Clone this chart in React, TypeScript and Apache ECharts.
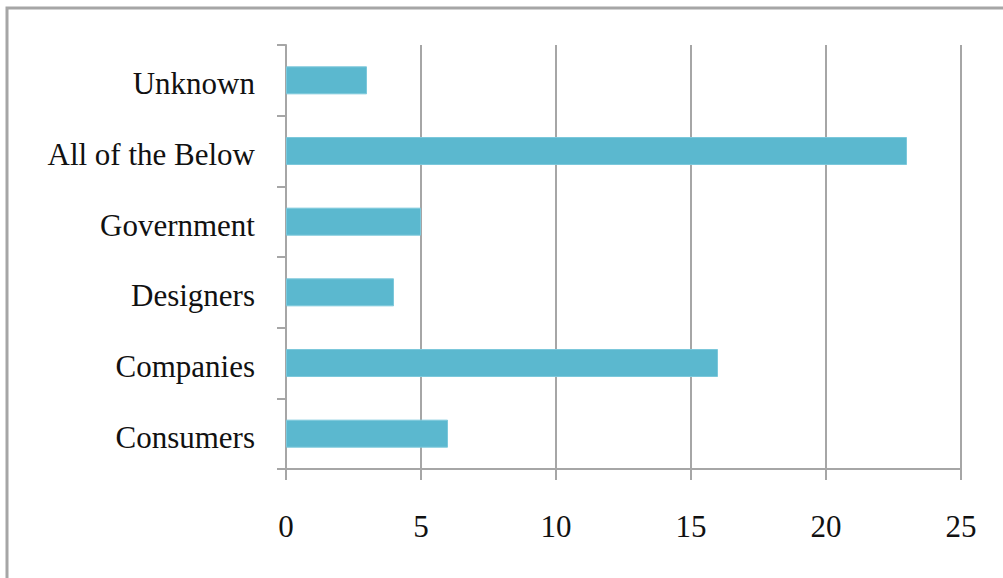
import React, { useEffect, useRef } from "react";
import * as echarts from "echarts";

const categories = ["Consumers", "Companies", "Designers", "Government", "All of the Below", "Unknown"];
const values = [6, 16, 4, 5, 23, 3];
const xTicks = [0, 5, 10, 15, 20, 25];

export default function App() {
  const ref = useRef<HTMLDivElement>(null);
  useEffect(() => {
    const chart = echarts.init(ref.current!, null, { renderer: "svg" });
    const font = "'Liberation Serif', 'Times New Roman', serif";
    chart.setOption({
      animation: false,
      backgroundColor: "#ffffff",
      grid: { left: 286, right: 42, top: 45, bottom: 109 },
      xAxis: {
        type: "value",
        min: xTicks[0],
        max: xTicks[xTicks.length - 1],
        interval: 5,
        axisLine: { show: false },
        axisTick: { show: true, length: 11, lineStyle: { color: "#a6a6a6", width: 2 } },
        splitLine: { show: true, lineStyle: { color: "#a6a6a6", width: 2 } },
        axisLabel: { color: "#111111", fontFamily: font, fontSize: 31, margin: 42 },
      },
      yAxis: {
        type: "category",
        data: categories,
        axisLine: { show: true, lineStyle: { color: "#a6a6a6", width: 2 } },
        axisTick: { show: true, length: 9, lineStyle: { color: "#a6a6a6", width: 2 } },
        axisLabel: {
          margin: 31,
          formatter: "{a|{value}}",
          rich: {
            a: {
              color: "#111111",
              fontFamily: font,
              fontSize: 31,
              padding: [7, 0, 0, 0],
            },
          },
        },
      },
      series: [
        {
          type: "bar",
          data: values,
          barWidth: 28,
          itemStyle: { color: "#5bb8cf", borderColor: "#7cc8db", borderWidth: 1 },
        },
      ],
      graphic: [
        {
          type: "rect",
          shape: { x: 7, y: 8, width: 1200, height: 800 },
          style: { fill: "none", stroke: "#a6a6a6", lineWidth: 3 },
          silent: true,
        },
        {
          type: "line",
          shape: { x1: 277, y1: 469, x2: 961, y2: 469 },
          style: { stroke: "#a6a6a6", lineWidth: 2 },
          silent: true,
        },
      ],
    });
    return () => chart.dispose();
  }, []);
  return <div ref={ref} style={{ position: "fixed", left: 0, top: 0, width: 1003, height: 578 }} />;
}
